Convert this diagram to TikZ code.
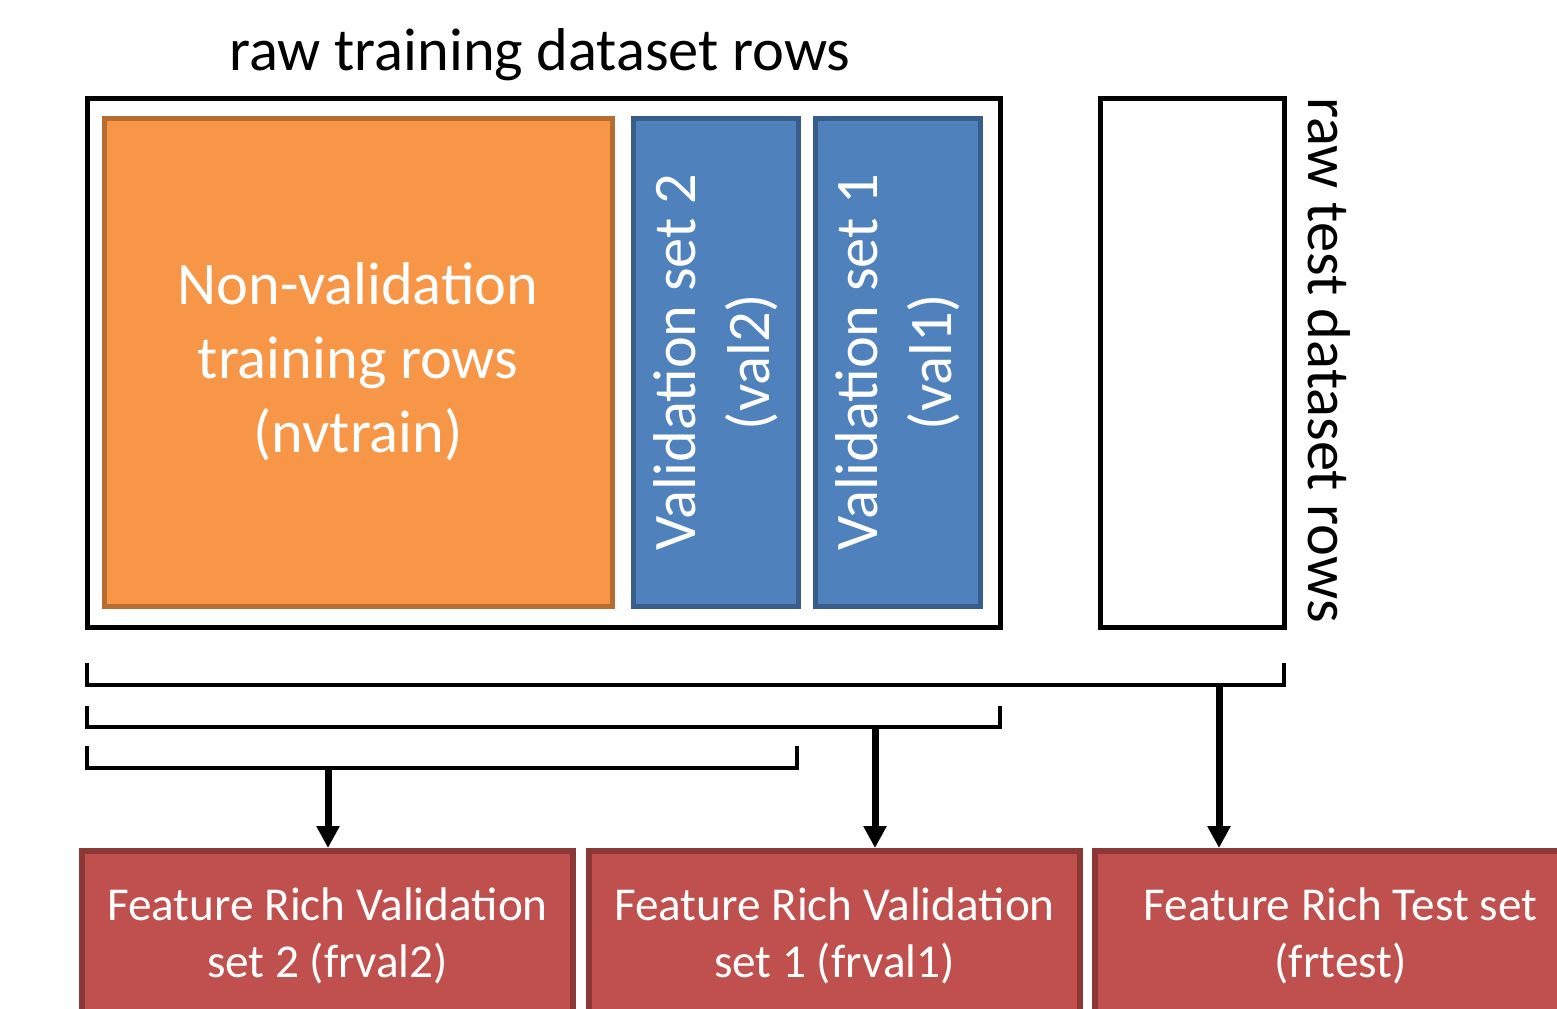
\documentclass[tikz,border=0pt]{standalone}
\usepackage{fontspec}
\setmainfont{Carlito}
\usetikzlibrary{arrows.meta}

\definecolor{nvfill}{HTML}{F79646}
\definecolor{nvline}{HTML}{B66D31}
\definecolor{valfill}{HTML}{4F81BD}
\definecolor{valline}{HTML}{385D8A}
\definecolor{frfill}{HTML}{C0504D}
\definecolor{frline}{HTML}{8C3836}

\tikzset{
    nvbox/.style = {draw=nvline, fill=nvfill, line width=2.5pt, text=white, align=center,
        minimum width=254pt, minimum height=244pt,
        font=\fontsize{30.2}{37}\selectfont},
    valbox/.style = {draw=valline, fill=valfill, line width=2.5pt, text=white, align=center,
        rotate=90, minimum width=244pt, minimum height=82.5pt,
        font=\fontsize{30.2}{37}\selectfont},
    frbox/.style = {draw=frline, fill=frfill, line width=3pt, text=white, align=center,
        minimum width=245.5pt, minimum height=85pt, anchor=north,
        font=\fontsize{23.6}{28.5}\selectfont},
    bracket/.style = {draw=black, line width=2pt},
    arr/.style = {line width=3.5pt, -{Triangle[width=11pt,length=11pt]}},
}

\begin{document}
\begin{tikzpicture}[x=0.5pt, y=-0.5pt]
    \useasboundingbox (0,0) rectangle (1557,1008);
    \clip (0,0) rectangle (1557,1008);

    % raw rows
    \node[font=\fontsize{30.2}{36}\selectfont] (trainlbl) at (540,55) {raw training dataset rows};
    \draw[line width=2.5pt] (87,98) rectangle (1000,627);
    \draw[line width=2.5pt] (1100,98) rectangle (1284,627);
    \node[rotate=-90, font=\fontsize{30.2}{36}\selectfont] (testlbl) at (1329,360) {raw test dataset rows};

    % split of the training rows
    \node[nvbox] (nvtrain) at (358,362) {Non-validation\\training rows\\(nvtrain)};
    \node[valbox] (val2) at (715.5,362) {Validation set 2\\(val2)};
    \node[valbox] (val1) at (897.5,362) {Validation set 1\\(val1)};

    % brackets
    \coordinate (b1) at (1219,685);
    \coordinate (b2) at (875,727);
    \coordinate (b3) at (328,768);
    \draw[bracket] (87,663) -- (87,685) -- (1284,685) -- (1284,663);
    \draw[bracket] (87,706) -- (87,727) -- (1000,727) -- (1000,706);
    \draw[bracket] (87,746) -- (87,768) -- (797,768) -- (797,746);

    % feature rich sets
    \node[frbox] (frval2) at (327.5,848) {Feature Rich Validation\\set 2 (frval2)};
    \node[frbox] (frval1) at (834.5,848) {Feature Rich Validation\\set 1 (frval1)};
    \node[frbox] (frtest) at (1340.5,848) {Feature Rich Test set\\(frtest)};

    \draw[arr] (b3) -- (b3 |- frval2.north);
    \draw[arr] (b2) -- (b2 |- frval1.north);
    \draw[arr] (b1) -- (b1 |- frtest.north);
\end{tikzpicture}
\end{document}
